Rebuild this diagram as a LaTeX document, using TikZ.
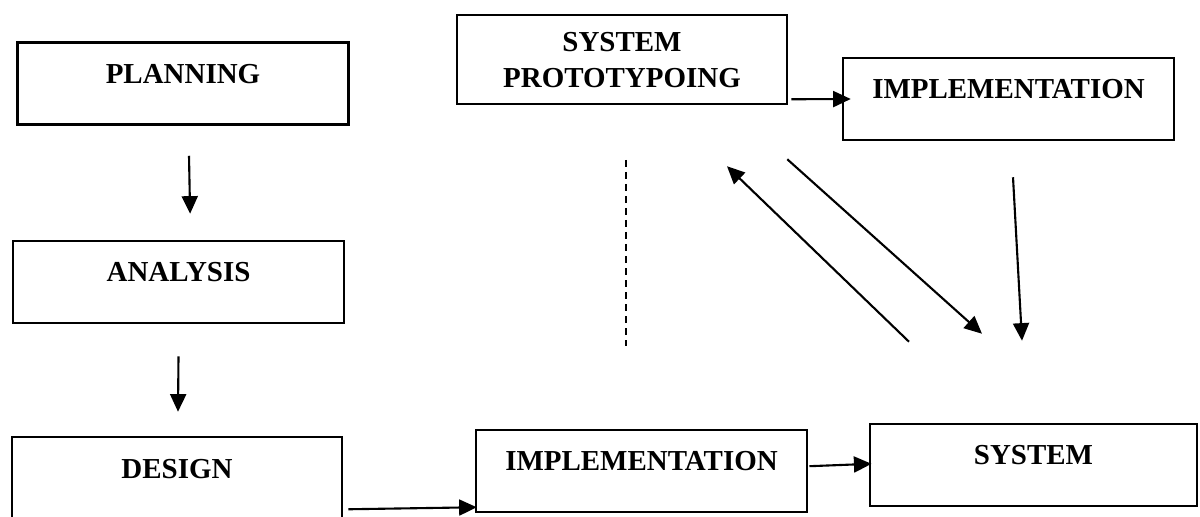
\documentclass[tikz,border=0pt]{standalone}
\usepackage{fontspec}
\setmainfont{Liberation Serif}
\usepackage{tikz}
\usetikzlibrary{arrows.meta}

\begin{document}
\begin{tikzpicture}[>={Triangle[length=0.44cm,width=0.4cm]}]
    % Define styles
    \tikzstyle{phase} = [rectangle, minimum width=8.275cm, minimum height=2.05cm, text centered, align=center, draw=black, line width=1.8pt, text depth=0.5cm, font=\bfseries\fontsize{20.6}{25.6}\selectfont]
    \tikzstyle{arrow} = [->, line width=1.5pt]
    \tikzstyle{divider} = [dash pattern=on 0.17cm off 0.13cm, line width=1.1pt]

    \useasboundingbox (0,0) rectangle (30,12.9);

    % Classic phases
    \node [phase] (planning) at (4.575,10.8125) {PLANNING};
    \node [phase] (analysis) at (4.4625,5.85) {ANALYSIS};
    \node [phase, minimum width=8.25cm, minimum height=2.075cm] (design) at (4.425,0.9375) {DESIGN};
    \node [phase] (implementation) at (16.0375,1.125) {IMPLEMENTATION};
    \node [phase, minimum width=8.175cm] (system) at (25.8375,1.275) {SYSTEM};

    % Prototyping loop
    \node [phase, minimum width=8.25cm, minimum height=2.225cm, text depth=0pt] (prototyping) at (15.55,11.4125) {SYSTEM\\PROTOTYPOING};
    \node [phase] (proto_implementation) at (25.2125,10.425) {IMPLEMENTATION};

    % Divider
    \coordinate (divider_top) at (15.65,8.9);
    \coordinate (divider_bottom) at (15.65,4.25);
    \draw [divider] (divider_top) -- (divider_bottom);

    % Arrows
    \draw [arrow] ([shift={(0.15,-0.75)}]planning.south) -- ([shift={(0.29,0.65)}]analysis.north);
    \draw [arrow] ([shift={(0,-0.8)}]analysis.south) -- ([shift={(0.025,0.6)}]design.north);
    \draw [arrow] ([shift={(0.125,0.3)}]design.south east) -- ([shift={(0.05,0.15)}]implementation.south west);
    \draw [arrow] ([shift={(0.03,0.12)}]implementation.east) -- ([shift={(0.07,0.03)}]system.west);

    \draw [arrow] ([shift={(0.075,0.15)}]prototyping.south east) -- ([shift={(0.225,0)}]proto_implementation.west);
    \draw [arrow] ([shift={(0.1125,-0.9)}]proto_implementation.south) -- ([shift={(-0.2875,2.05)}]system.north);
    \draw [arrow] ([shift={(-0.025,-1.35)}]prototyping.south east) -- ([shift={(-1.2875,2.225)}]system.north);
    \draw [arrow] ([shift={(-3.1125,2.025)}]system.north) -- ([shift={(2.625,-1.525)}]prototyping.south);
\end{tikzpicture}
\end{document}
